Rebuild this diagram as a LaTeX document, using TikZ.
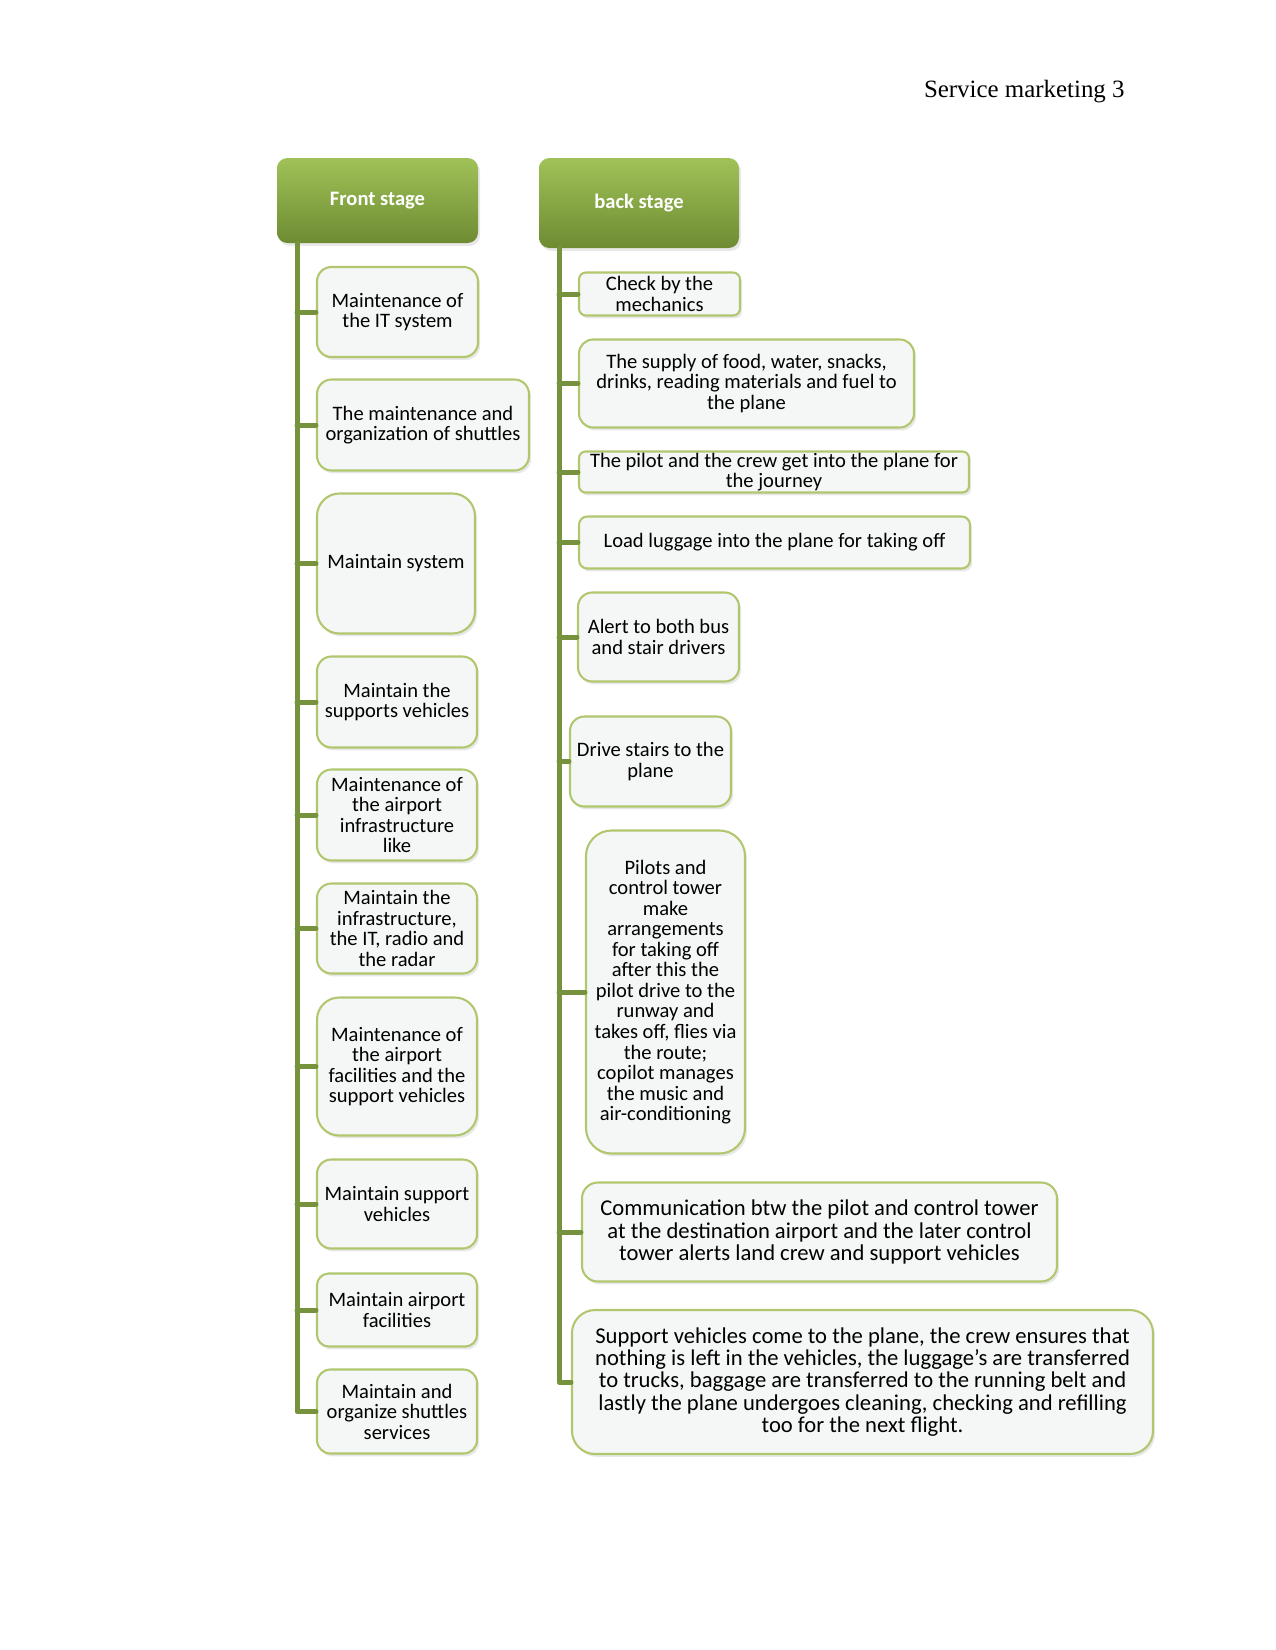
\documentclass[tikz,border=0pt]{standalone}
\usepackage{fontspec}
\setmainfont{Liberation Serif}
\newfontfamily\boxfont{Carlito}
\usetikzlibrary{shadows}
\definecolor{Trunk}{RGB}{118,146,60}
\definecolor{Hdtop}{RGB}{160,194,88}
\definecolor{Hdbot}{RGB}{110,139,50}
\definecolor{Leafline}{RGB}{176,199,110}
\definecolor{Leaffill}{RGB}{245,246,246}

\begin{document}
\begin{tikzpicture}[x=0.48bp,y=-0.48bp,line cap=round,line join=round,
  trunk/.style={draw=Trunk,line width=2.4bp},
  soft/.style={drop shadow={opacity=0.18,shadow xshift=1bp,shadow yshift=-1.4bp}},
  head/.style={soft,rounded corners=5bp,top color=Hdtop,bottom color=Hdbot,text=white,inner sep=0pt,
    font=\boxfont\bfseries\fontsize{9.9}{10}\selectfont},
  leaf/.style={soft,draw=Leafline,line width=1bp,fill=Leaffill,align=center,inner sep=0pt,
    font=\boxfont\fontsize{9.9}{9.9}\selectfont},
  big/.style={font=\boxfont\fontsize{10.9}{10.7}\selectfont},
  wh/.style 2 args={minimum width=#1*0.48bp,minimum height=#2*0.48bp,rounded corners={min(#1,#2)*0.077bp}}]
\path[use as bounding box] (0,0) rectangle (1275,1650);
\node[anchor=base east,inner sep=0pt,font=\fontsize{12}{14}\selectfont] (pagehead) at (1125,97) {Service marketing 3};

% headers
\node[head,minimum width=201*0.48bp,minimum height=85*0.48bp] (front) at (377.5,200.5) {Front stage};
\node[head,minimum width=200*0.48bp,minimum height=90*0.48bp] (back) at (639,203) {back stage};

% front stage items
\node[leaf,wh={161}{90}] (f1) at (397.5,312) {Maintenance of\\the IT system};
\node[leaf,wh={212}{91}] (f2) at (423,425) {The maintenance and\\organization of shuttles};
\node[leaf,wh={158}{140}] (f3) at (396,563.5) {Maintain system};
\node[leaf,wh={160}{91}] (f4) at (397,702) {Maintain the\\supports vehicles};
\node[leaf,wh={160}{91}] (f5) at (397,815) {Maintenance of\\the airport\\infrastructure\\like};
\node[leaf,wh={160}{90}] (f6) at (397,928.5) {Maintain the\\infrastructure,\\the IT, radio and\\the radar};
\node[leaf,wh={160}{138}] (f7) at (397,1066.5) {Maintenance of\\the airport\\facilities and the\\support vehicles};
\node[leaf,wh={160}{89}] (f8) at (397,1204) {Maintain support\\vehicles};
\node[leaf,wh={160}{73}] (f9) at (397,1310) {Maintain airport\\facilities};
\node[leaf,wh={160}{84}] (f10) at (397,1411.5) {Maintain and\\organize shuttles\\services};

% back stage items
\node[leaf,wh={161}{43}] (b1) at (659.5,294) {Check by the\\mechanics};
\node[leaf,wh={335}{88}] (b2) at (746.5,383.5) {The supply of food, water, snacks,\\drinks, reading materials and fuel to\\the plane};
\node[leaf,wh={390}{41}] (b3) at (774,472) {The pilot and the crew get into the plane for\\the journey};
\node[leaf,wh={391}{52}] (b4) at (774.5,542.5) {Load luggage into the plane for taking off};
\node[leaf,wh={161}{89}] (b5) at (658.5,637) {Alert to both bus\\and stair drivers};
\node[leaf,wh={161}{90}] (b6) at (650.5,761.5) {Drive stairs to the\\plane};
\node[leaf,wh={159}{323}] (b7) at (665.5,992) {Pilots and\\control tower\\make\\arrangements\\for taking off\\after this the\\pilot drive to the\\runway and\\takes off, flies via\\the route;\\copilot manages\\the music and\\air-conditioning};
\node[leaf,big,wh={475}{99}] (b8) at (819.5,1232) {Communication btw the pilot and control tower\\at the destination airport and the later control\\tower alerts land crew and support vehicles};
\node[leaf,big,wh={581}{144}] (b9) at (862.5,1382) {Support vehicles come to the plane, the crew ensures that\\nothing is left in the vehicles, the luggage’s are transferred\\to trucks, baggage are transferred to the running belt and\\lastly the plane undergoes cleaning, checking and refilling\\too for the next flight.};

% trunks and branches
\coordinate (ftop) at (297,243);
\coordinate (btop) at (559,248);
\draw[trunk] (ftop) -- (ftop |- f10.west) -- (f10.west);
\foreach \n in {f1,f2,f3,f4,f5,f6,f7,f8,f9}
  \draw[trunk] (ftop |- \n.west) -- (\n.west);
\draw[trunk] (btop) -- (btop |- b9.west) -- (b9.west);
\foreach \n in {b1,b2,b3,b4,b5,b6,b7,b8}
  \draw[trunk] (btop |- \n.west) -- (\n.west);
\end{tikzpicture}
\end{document}
